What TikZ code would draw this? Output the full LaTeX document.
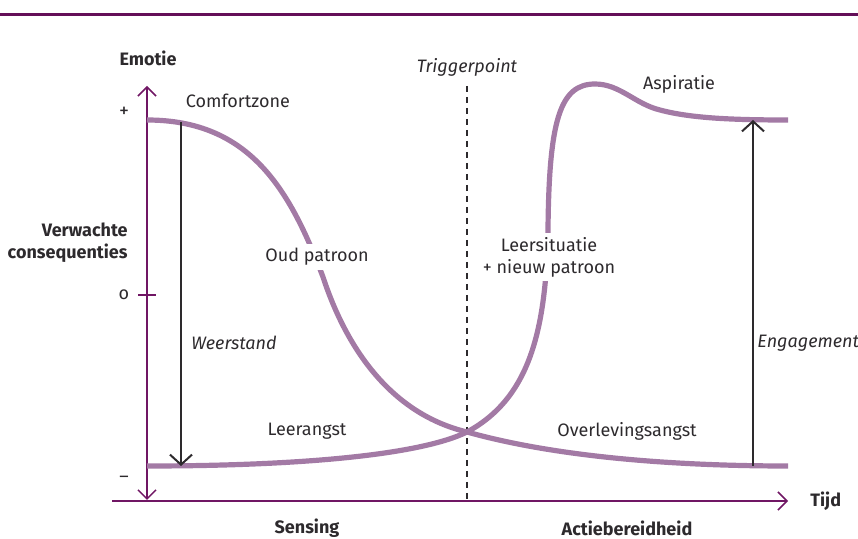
\documentclass[tikz,border=0pt]{standalone}
\usepackage{fontspec}
\setmainfont{Fira Sans}
\usetikzlibrary{arrows.meta}

\definecolor{axispurple}{RGB}{112,22,100}
\definecolor{toppurple}{RGB}{100,14,88}
\definecolor{curvelila}{RGB}{163,122,165}
\definecolor{textgrey}{RGB}{45,42,45}

\tikzset{
	axis/.style={draw=axispurple, line width=0.75pt},
	curve/.style={draw=curvelila, line width=2.6pt},
	force/.style={draw=textgrey, line width=1pt, -{Straight Barb[length=5pt,width=11pt,line width=1pt]}},
	lbl/.style={text=textgrey, font=\fontsize{9}{11}\selectfont, inner sep=1pt},
	bold lbl/.style={lbl, font=\fontsize{9}{11}\selectfont\bfseries},
	ital lbl/.style={lbl, font=\fontsize{9}{11}\selectfont\itshape},
	masked/.style={lbl, fill=white, inner sep=2pt, align=center}
}

\begin{document}
\begin{tikzpicture}[x=0.5pt,y=-0.5pt]
	\useasboundingbox (0,0) rectangle (858,539);
	\pgfmathsetmacro\TOP{120}
	\pgfmathsetmacro\BOT{466}
	% top rule
	\draw[toppurple, line width=1.5pt] (0,15) -- (858,15);
	% axes
	\coordinate (ytop) at (147,86);
	\coordinate (ybot) at (147,500);
	\coordinate (xleft) at (112,501);
	\coordinate (xright) at (788,501);
	\draw[axis, {Straight Barb[length=4.5pt,width=9pt,line width=0.75pt]}-{Straight Barb[length=4.5pt,width=9pt,line width=0.75pt]}] (ybot) -- (ytop);
	\draw[axis, -{Straight Barb[length=4.5pt,width=9pt,line width=0.75pt]}] (xleft) -- (xright);
	\coordinate (tickl) at (138,295);
	\coordinate (tickr) at (156,295);
	\draw[axis] (tickl) -- (tickr);
	% triggerpoint
	\coordinate (trigtop) at (467,86);
	\coordinate (trigbot) at (467,500);
	\draw[textgrey, line width=0.6pt, dash pattern=on 3pt off 2.5pt] (trigtop) -- (trigbot);
	% curves
	\coordinate (cross) at (467,432);
	\draw[curve] (147,\TOP) .. controls (250,\TOP) and (290,190) .. (323,277)
		.. controls (347,350) and (392,414) .. (cross)
		.. controls (560,458) and (680,466) .. (788,\BOT);
	\draw[curve] (147,\BOT) .. controls (300,\BOT) and (420,455) .. (cross)
		.. controls (530,398) and (546,330) .. (548,230)
		.. controls (549,120) and (560,84) .. (595,84)
		.. controls (620,84) and (635,104) .. (660,110)
		.. controls (690,118) and (730,\TOP) .. (788,\TOP);
	% forces
	\coordinate (wtop) at (181,122);
	\coordinate (wbot) at (181,466);
	\coordinate (ebot) at (753,466);
	\coordinate (etop) at (753,120);
	\draw[force] (wtop) -- (wbot);
	\draw[force] (ebot) -- (etop);
	% labels
	\node[bold lbl] (emotie) at (148,58) {Emotie};
	\node[bold lbl, anchor=east, align=right] (verwacht) at (130,243) {Verwachte\\consequenties};
	\node[lbl, font=\fontsize{10}{12}\selectfont] (plus) at (124,112) {+};
	\node[lbl] (nul) at (124,295) {o};
	\node[lbl] (min) at (124,479) {--};
	\node[lbl] (comfort) at (238,101) {Comfortzone};
	\node[masked] (oud) at (317,257) {Oud patroon};
	\node[ital lbl, anchor=west] (weerstand) at (189,343) {Weerstand};
	\node[lbl] (leerangst) at (307,431) {Leerangst};
	\node[ital lbl] (trigger) at (467,67) {Triggerpoint};
	\node[lbl] (aspiratie) at (679,84) {Aspiratie};
	\node[masked] (leersit) at (549,257) {Leersituatie\\+ nieuw patroon};
	\node[lbl] (overleving) at (627,431) {Overlevingsangst};
	\node[ital lbl, anchor=west] (engagement) at (755,343) {Engagement};
	\node[bold lbl, anchor=west] (tijd) at (808,501) {Tijd};
	\node[bold lbl] (sensing) at (307,528) {Sensing};
	\node[bold lbl] (actie) at (627,528) {Actiebereidheid};
\end{tikzpicture}
\end{document}
